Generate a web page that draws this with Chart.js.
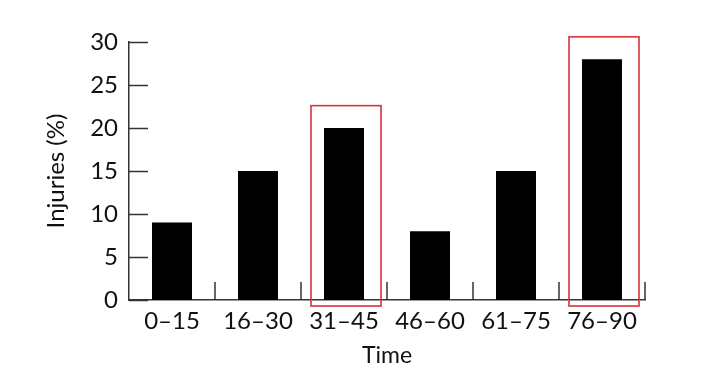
<!DOCTYPE html>
<html>
<head>
<meta charset="utf-8">
<script src="https://cdn.jsdelivr.net/npm/chart.js@4"></script>
<style>
  html, body { margin: 0; padding: 0; background: #fff; }
  #box { width: 720px; height: 375px; }
</style>
</head>
<body>
<div id="box"><canvas id="grafico"></canvas></div>
<script>
// Dados do gráfico
const categorias = ['0–15', '16–30', '31–45', '46–60', '61–75', '76–90'];
const lesoes = [9, 15, 20, 8, 15, 28];
const destacados = ['31–45', '76–90'];
const ticksY = [0, 5, 10, 15, 20, 25, 30];

const FONTE = 'Lato, "Open Sans", sans-serif';

// marcas internas dos eixos + caixas vermelhas
const marcasPlugin = {
  id: 'marcas',
  afterDatasetsDraw(chart) {
    const ctx = chart.ctx;
    const x = chart.scales.x;
    const y = chart.scales.y;
    const area = chart.chartArea;
    const larguraCat = x.width / categorias.length;
    ctx.save();
    ctx.strokeStyle = '#333';
    ctx.lineWidth = 1.5;
    // ticks do eixo y, para dentro
    ticksY.forEach(function (v) {
      const py = Math.round(y.getPixelForValue(v)) + 0.5;
      ctx.beginPath();
      ctx.moveTo(area.left, py);
      ctx.lineTo(area.left + 19, py);
      ctx.stroke();
    });
    // ticks do eixo x entre categorias
    for (let i = 0; i < categorias.length; i++) {
      const px = Math.round(x.getPixelForValue(i) + larguraCat / 2);
      ctx.beginPath();
      ctx.moveTo(px, area.bottom);
      ctx.lineTo(px, area.bottom - 18);
      ctx.stroke();
    }
    // caixas de destaque
    ctx.strokeStyle = '#d9333a';
    ctx.lineWidth = 1.6;
    destacados.forEach(function (c) {
      const i = categorias.indexOf(c);
      const cx = x.getPixelForValue(i) + 2;
      const topo = y.getPixelForValue(lesoes[i] + 2.6);
      ctx.strokeRect(cx - 35, topo, 70, area.bottom + 6 - topo);
    });
    ctx.restore();
  }
};

function desenharGrafico() {
  const ctx = document.getElementById('grafico');
  new Chart(ctx, {
    type: 'bar',
    data: {
      labels: categorias,
      datasets: [{
        data: lesoes,
        backgroundColor: '#000',
        borderWidth: 0,
        barPercentage: 0.465,
        categoryPercentage: 1
      }]
    },
    options: {
      responsive: true,
      maintainAspectRatio: false,
      animation: false,
      layout: { padding: { top: 42, right: 75, left: 0, bottom: 0 } },
      plugins: { legend: { display: false }, tooltip: { enabled: false } },
      scales: {
        x: {
          grid: { display: false, drawTicks: false },
          border: { display: true, color: '#333', width: 1.5 },
          ticks: { color: '#111', font: { family: FONTE, size: 24 }, padding: 7, maxRotation: 0 },
          title: { display: true, text: 'Time', color: '#111', font: { family: FONTE, size: 23 }, padding: { top: 0, bottom: 6 } },
          afterFit(scale) { scale.height = 75; }
        },
        y: {
          min: 0,
          max: 30,
          grid: { display: false, drawTicks: false },
          border: { display: true, color: '#333', width: 1.5 },
          ticks: { stepSize: 5, color: '#111', font: { family: FONTE, size: 24 }, padding: 11 },
          title: { display: true, text: 'Injuries (%)', color: '#111', font: { family: FONTE, size: 24 }, padding: { top: 42, bottom: 0 } },
          afterFit(scale) { scale.width = 129; }
        }
      }
    },
    plugins: [marcasPlugin]
  });
}

desenharGrafico();
</script>
</body>
</html>
